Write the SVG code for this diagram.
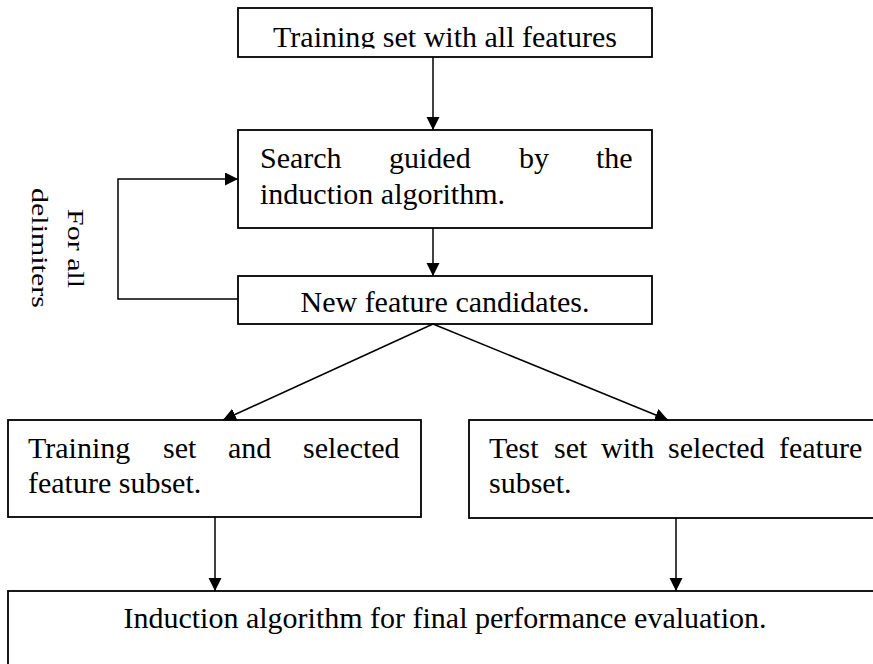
<svg xmlns="http://www.w3.org/2000/svg" width="873" height="664" viewBox="0 0 873 664">
<style>
.box{fill:#fff;stroke:#000;stroke-width:1.8}
.t{font-family:'Liberation Serif','DejaVu Serif',serif;font-size:30px;fill:#000}
.c{fill:none;stroke:#000;stroke-width:1.5}
</style>
<defs>
<marker id="ah" markerUnits="userSpaceOnUse" markerWidth="14" markerHeight="14" refX="13" refY="6.5" orient="auto">
<path d="M0,0 L13,6.5 L0,13 z" fill="#000"/>
</marker>
<clipPath id="clipTop"><rect x="238" y="8" width="414" height="40.5"/></clipPath>
</defs>
<rect width="873" height="664" fill="#fff"/>
<g id="n1">
<rect class="box" x="238" y="8" width="414" height="49"/>
<text class="t" x="445" y="47" text-anchor="middle" clip-path="url(#clipTop)">Training set with all features</text>
</g>
<g id="n2">
<rect class="box" x="238" y="130" width="414" height="98"/>
<text class="t" y="168"><tspan x="260">Search</tspan><tspan x="389">guided</tspan><tspan x="519">by</tspan><tspan x="596">the</tspan></text>
<text class="t" x="260" y="204">induction algorithm.</text>
</g>
<g id="n3">
<rect class="box" x="238" y="276" width="414" height="48"/>
<text class="t" x="445" y="312" text-anchor="middle">New feature candidates.</text>
</g>
<g id="n4">
<rect class="box" x="8" y="420" width="413" height="97"/>
<text class="t" y="458"><tspan x="28">Training</tspan><tspan x="163">set</tspan><tspan x="228">and</tspan><tspan x="303">selected</tspan></text>
<text class="t" x="28" y="493">feature subset.</text>
</g>
<g id="n5">
<rect class="box" x="469" y="420" width="420" height="98"/>
<text class="t" y="458"><tspan x="489">Test</tspan><tspan x="554">set</tspan><tspan x="601">with</tspan><tspan x="668">selected</tspan><tspan x="779">feature</tspan></text>
<text class="t" x="489" y="493">subset.</text>
</g>
<g id="n6">
<rect class="box" x="8" y="591" width="890" height="100"/>
<text class="t" x="445" y="628" text-anchor="middle">Induction algorithm for final performance evaluation.</text>
</g>
<g id="loopLabel">
<text class="t" transform="translate(68,209) rotate(90) scale(1,0.74)">For all</text>
<text class="t" transform="translate(32,188) rotate(90) scale(1,0.74)">delimiters</text>
</g>
<g id="connectors">
<line class="c" x1="433" y1="57" x2="433" y2="130" marker-end="url(#ah)"/>
<line class="c" x1="433" y1="228" x2="433" y2="276" marker-end="url(#ah)"/>
<polyline class="c" points="238,299 118,299 118,179 238,179" marker-end="url(#ah)"/>
<line class="c" x1="433" y1="324" x2="223" y2="420" marker-end="url(#ah)"/>
<line class="c" x1="433" y1="324" x2="668" y2="420" marker-end="url(#ah)"/>
<line class="c" x1="215" y1="517" x2="215" y2="591" marker-end="url(#ah)"/>
<line class="c" x1="676" y1="518" x2="676" y2="591" marker-end="url(#ah)"/>
</g>
</svg>
